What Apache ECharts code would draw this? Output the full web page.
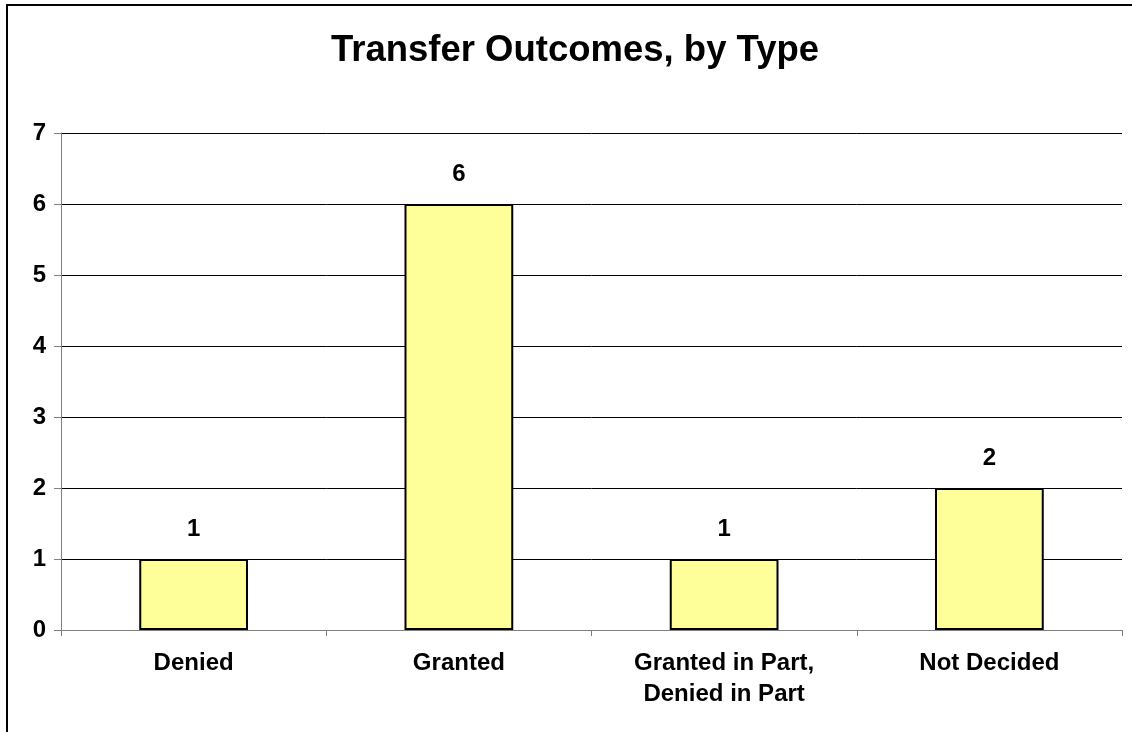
<!DOCTYPE html>
<html>
<head>
<meta charset="utf-8">
<script src="https://cdn.jsdelivr.net/npm/echarts@6/dist/echarts.min.js"></script>
<style>
  html, body { margin: 0; padding: 0; background: #fff; }
  #chart { width: 1132px; height: 732px; }
</style>
</head>
<body>
<div id="chart"></div>
<script>
var categories = ['Denied', 'Granted', 'Granted in Part,\nDenied in Part', 'Not Decided'];
var counts = [1, 6, 1, 2];
var yTicks = [0, 1, 2, 3, 4, 5, 6, 7];

var font = 'Arial, "Liberation Sans", sans-serif';

var myChart = echarts.init(document.getElementById('chart'));
var option = {
    animation: false,
    backgroundColor: '#fff',
    title: {
        text: 'Transfer Outcomes, by Type',
        left: 570,
        top: 27,
        textAlign: 'center',
        textStyle: { fontFamily: font, fontWeight: 'bold', fontSize: 36.5, color: '#000' }
    },
    graphic: [{
        type: 'rect',
        shape: { x: 7, y: 5, width: 1300, height: 900 },
        style: { fill: 'none', stroke: '#000', lineWidth: 2 },
        silent: true
    }],
    grid: { left: 61, right: 10, top: 133, bottom: 102 },
    xAxis: {
        type: 'category',
        data: categories,
        axisLine: { lineStyle: { color: '#808080', width: 1 } },
        axisTick: { show: true, length: 6, lineStyle: { color: '#808080' } },
        axisLabel: {
            margin: 18,
            fontFamily: font, fontWeight: 'bold', fontSize: 24, color: '#000',
            lineHeight: 31
        }
    },
    yAxis: {
        type: 'value',
        min: yTicks[0],
        max: yTicks[yTicks.length - 1],
        interval: 1,
        axisLine: { show: true, lineStyle: { color: '#808080', width: 1 } },
        axisTick: { show: true, length: 7, lineStyle: { color: '#808080' } },
        axisLabel: {
            margin: 15,
            fontFamily: font, fontWeight: 'bold', fontSize: 24, color: '#000'
        },
        splitLine: { show: true, lineStyle: { color: '#000', width: 1 } }
    },
    series: [{
        type: 'bar',
        data: counts,
        barCategoryGap: '59%',
        itemStyle: { color: '#FFFF99', borderColor: '#000', borderWidth: 2 },
        label: {
            show: true,
            position: 'top',
            distance: 18,
            fontFamily: font, fontWeight: 'bold', fontSize: 24, color: '#000'
        }
    }]
};
myChart.setOption(option);
</script>
</body>
</html>
